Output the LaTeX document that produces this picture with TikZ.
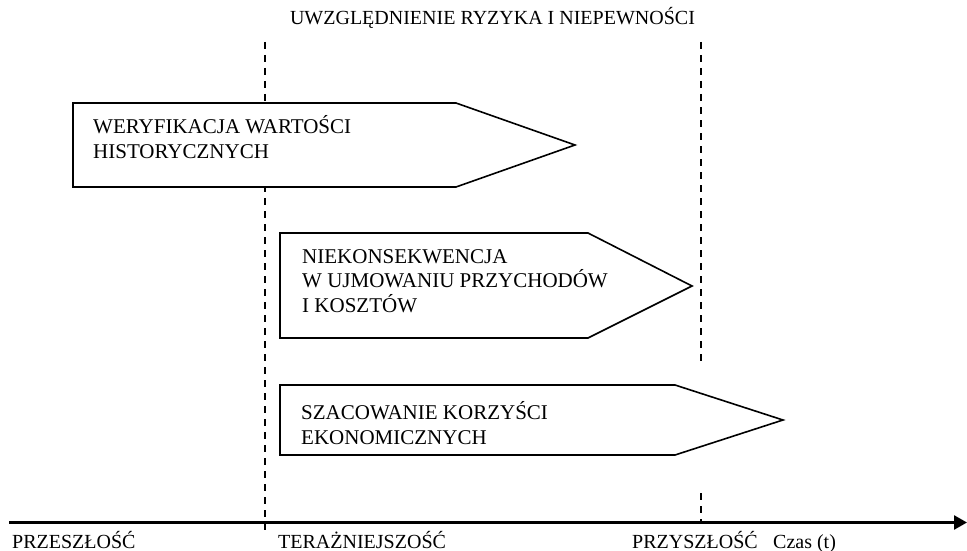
\documentclass[tikz,border=0pt]{standalone}
\usepackage{fontspec}
\setmainfont{Liberation Serif}
\usetikzlibrary{arrows.meta}
\tikzset{
  pentarrow/.style={draw=black, fill=white, line width=1.6pt, line join=miter},
  vdash/.style={draw=black, line width=1.8pt, dash pattern=on 7pt off 6pt},
  boxtext/.style={anchor=base west, align=left, inner sep=0pt, font=\fontsize{21}{24.5}\selectfont},
  axislabel/.style={anchor=base west, inner sep=0pt, font=\fontsize{20}{24}\selectfont},
  titletext/.style={anchor=base, inner sep=0pt, font=\fontsize{20}{24}\selectfont},
  axisline/.style={draw=black, line width=2.6pt, -{Triangle[length=13pt,width=14pt]}}
}
\begin{document}
\begin{tikzpicture}[x=1pt,y=-1pt]
\useasboundingbox[fill=white] (0,0) rectangle (967,551);
% dashed guide lines
\coordinate (lt) at (265,42);
\coordinate (lb) at (265,535);
\coordinate (rt) at (701,42);
\coordinate (rm) at (701,365);
\coordinate (rl) at (701,493);
\coordinate (rb) at (701,522.5);
\draw[vdash] (lt) -- (lb);
\draw[vdash] (rt) -- (rm);
\draw[vdash] (rl) -- (rb);
% title
\node[titletext] (title) at (492.5,25) {UWZGLĘDNIENIE RYZYKA I NIEPEWNOŚCI};
% arrow shapes
\draw[pentarrow] (73,103) -- (456,103) -- (575,145) -- (456,187) -- (73,187) -- cycle;
\draw[pentarrow] (280,233) -- (588,233) -- (692,286) -- (588,338) -- (280,338) -- cycle;
\draw[pentarrow] (280,385) -- (675,385) -- (783,420) -- (675,455) -- (280,455) -- cycle;
% texts (base anchor = baseline of last line)
\node[boxtext] (t1) at (93,158) {WERYFIKACJA WARTOŚCI\\HISTORYCZNYCH};
\node[boxtext] (t2) at (302,312) {NIEKONSEKWENCJA\\W UJMOWANIU PRZYCHODÓW\\I KOSZTÓW};
\node[boxtext] (t3) at (301,444) {SZACOWANIE KORZYŚCI\\EKONOMICZNYCH};
% time axis
\coordinate (a0) at (9,522.5);
\coordinate (a1) at (967,522.5);
\draw[axisline] (a0) -- (a1);
\node[axislabel] (past) at (12,548.5) {PRZESZŁOŚĆ};
\node[axislabel] (present) at (278,548.5) {TERAŻNIEJSZOŚĆ};
\node[axislabel] (future) at (632,548.5) {PRZYSZŁOŚĆ};
\node[axislabel] (time) at (773,548.5) {Czas (t)};
\end{tikzpicture}
\end{document}
